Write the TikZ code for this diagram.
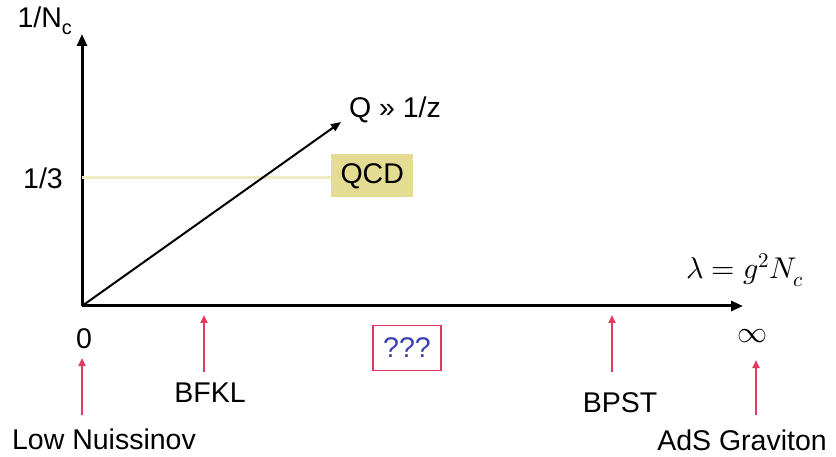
\documentclass[tikz,border=0pt]{standalone}
\usepackage{fontspec}
\setmainfont{Liberation Sans}
\usepackage{unicode-math}
\setmathfont{Latin Modern Math}
\usetikzlibrary{arrows.meta}
\definecolor{redarrow}{HTML}{E23A5C}
\definecolor{qcdfill}{HTML}{E3DC92}
\definecolor{qcdline}{HTML}{EDEBC0}
\definecolor{qblue}{HTML}{3B3FB0}
\tikzset{
  axis/.style={line width=3pt,-{Triangle[length=12pt,width=10pt]}},
  diag/.style={line width=2pt,-{Triangle[length=10pt,width=8pt]}},
  redarr/.style={draw=redarrow,line width=2pt,-{Triangle[length=8pt,width=7pt]}},
  lab/.style={font=\fontsize{28.5}{31}\selectfont,inner sep=0pt},
}
\begin{document}
\begin{tikzpicture}[x=1pt,y=-1pt]
\useasboundingbox (0,0) rectangle (836,457);
% axes
\coordinate (O) at (82,306);
\coordinate (ytop) at (82,34);
\coordinate (xend) at (743,306);
\coordinate (dend) at (341,122);
\draw[axis] (O) -- (ytop);
\draw[axis] (O) -- (xend);
% QCD line and box
\node[lab,fill=qcdfill,minimum width=82pt,minimum height=43pt,anchor=west] (qcd) at (331,176) {QCD};
\coordinate (ythird) at (82,178);
\draw[qcdline,line width=3pt] (ythird) -- (qcd.west |- ythird);
\draw[diag] (O) -- (dend);
% labels
\node[lab] (yl) at (45,21) {1/N\textsubscript{c}};
\node[lab] (third) at (43,178) {1/3};
\node[lab] (ql) at (395,110) {Q » 1/z};
\node[inner sep=0pt] (lam) at (745,270) {\fontsize{30}{34}\selectfont$\lambda = g^2 N_c$};
\node[lab] (zero) at (84,339) {0};
\node[inner sep=0pt] (inf) at (752,336) {\fontsize{30}{34}\selectfont$\infty$};
\node[lab,draw=redarrow,line width=1.2pt,text=qblue,minimum width=68pt,minimum height=45pt] (qqq) at (407,348) {???};
% bottom labels
\node[lab] (low) at (104,439) {Low Nuissinov};
\node[lab] (bfkl) at (210,393) {BFKL};
\node[lab] (bpst) at (620,403) {BPST};
\node[lab] (ads) at (742,440) {AdS Graviton};
% red arrows
\coordinate (lowb) at (82,415); \coordinate (lowt) at (82,358);
\coordinate (bfb) at (204,372); \coordinate (bft) at (204,315);
\coordinate (bpb) at (612,372); \coordinate (bpt) at (612,315);
\coordinate (adb) at (756,415); \coordinate (adt) at (756,360);
\draw[redarr] (lowb) -- (lowt);
\draw[redarr] (bfb) -- (bft);
\draw[redarr] (bpb) -- (bpt);
\draw[redarr] (adb) -- (adt);
\end{tikzpicture}
\end{document}
